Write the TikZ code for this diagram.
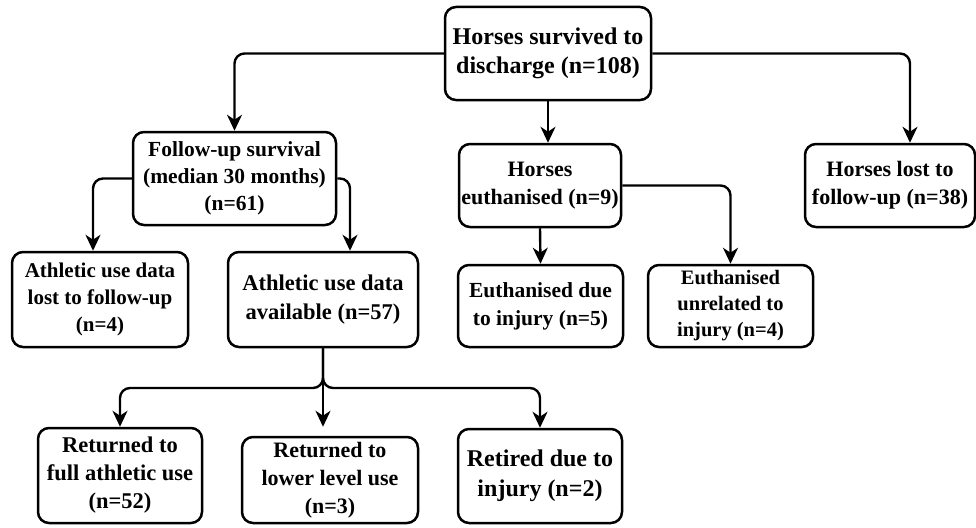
\documentclass[tikz,border=0pt]{standalone}
\usepackage{fontspec}
\setmainfont{Liberation Serif}
\usetikzlibrary{arrows.meta}
\tikzset{
	box/.style = {draw, line width = 2.5pt, rounded corners = 11pt, align = center, inner sep = 2pt, font = \bfseries},
	link/.style = {line width = 2.4pt, rounded corners = 10pt, -{Stealth[length = 16pt, width = 15pt, inset = 5pt]}}
}
\newcommand{\fs}[2]{\fontsize{#1}{#2}\selectfont}
\begin{document}
\begin{tikzpicture}[x = 1pt, y = -1pt]
				\useasboundingbox (0,0) rectangle (976,527);
				
				\node[box, minimum width = 206, minimum height = 93, font = \bfseries\fs{24}{29}] (top) at (548,53.5) {Horses survived to\\discharge (n=108)};
				\node[box, minimum width = 203, minimum height = 93, font = \bfseries\fs{21.5}{27}] (fu) at (234.5,178.5) {Follow-up survival\\(median 30 months)\\(n=61)};
				\node[box, minimum width = 162, minimum height = 83, font = \bfseries\fs{22}{28}] (eu) at (540,185.5) {Horses\\euthanised (n=9)};
				\node[box, minimum width = 170, minimum height = 83, font = \bfseries\fs{22}{28}] (lo) at (890,185.5) {Horses lost to\\follow-up (n=38)};
				
				\node[box, minimum width = 176, minimum height = 95, font = \bfseries\fs{21}{27}] (al) at (100,299.5) {Athletic use data\\lost to follow-up\\(n=4)};
				\node[box, minimum width = 190, minimum height = 95, font = \bfseries\fs{22.5}{29}] (av) at (323,299.5) {Athletic use data\\available (n=57)};
				\node[box, minimum width = 165, minimum height = 82, font = \bfseries\fs{21.5}{28}] (ed) at (540.5,306) {Euthanised due\\to injury (n=5)};
				\node[box, minimum width = 165, minimum height = 82, font = \bfseries\fs{20.5}{26}] (eo) at (730.5,306) {Euthanised\\unrelated to\\injury (n=4)};
				
				\node[box, minimum width = 164, minimum height = 95, font = \bfseries\fs{22.5}{28}] (rf) at (120,475.5) {Returned to\\full athletic use\\(n=52)};
				\node[box, minimum width = 176, minimum height = 86, font = \bfseries\fs{22}{28}] (rl) at (330,480) {Returned to\\lower level use\\(n=3)};
				\node[box, minimum width = 164, minimum height = 94, font = \bfseries\fs{24}{30}] (rt) at (540,476) {Retired due to\\injury (n=2)};
				
				\coordinate (split) at (323,388);
				
				\draw[link] (top.west) -| (fu.north);
				\draw[link] (top.east) -| ([xshift = 20]lo.north);
				\draw[link] (top.south) -- (top.south |- eu.north);
				
				\draw[link] (fu.west) -| ([xshift = -7]al.north);
				\draw[link] (fu.east) -| ([xshift = 27]av.north);
				
				\draw[link] (eu.south) -- (ed.north);
				\draw[link] (eu.east) -| (eo.north);
				
				\draw[link] (av.south) -- (split) -| (rf.north);
				\draw[link, shorten > = 9pt] (av.south) -- (split) -- (split |- rl.north);
				\draw[link] (av.south) -- (split) -| (rt.north);
			\end{tikzpicture}
\end{document}
